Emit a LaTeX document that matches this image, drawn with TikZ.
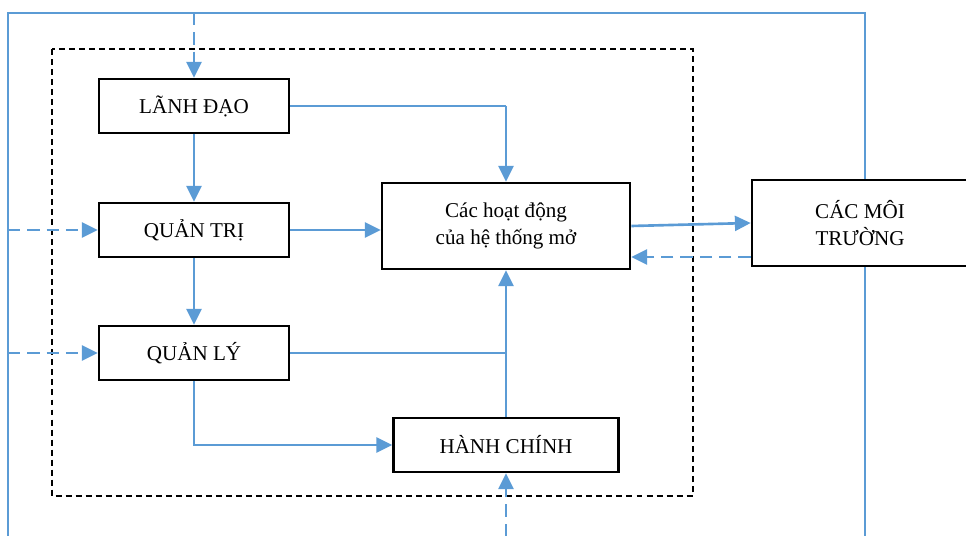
\documentclass[tikz,border=0pt]{standalone}
\usepackage{fontspec}
\setmainfont{Liberation Serif}
\usetikzlibrary{arrows.meta}
\definecolor{lineblue}{HTML}{5B9BD5}

\begin{document}
\begin{tikzpicture}[x=0.02cm,y=-0.02cm,
   box/.style={draw,line width=1.5pt,inner sep=0pt,minimum width=3.8cm,
     minimum height=1.08cm,align=center,font=\fontsize{12}{15}\selectfont},
   wire/.style={lineblue,line width=0.75pt},
   link/.style={lineblue,line width=1.5pt,-{Triangle[length=9pt,width=8.5pt]}},
   feed/.style={link,dash pattern=on 7pt off 4pt}]
   \useasboundingbox (0,0) rectangle (966,536);
   \draw[lineblue,line width=0.75pt] (8,536) -- (8,13) -- (865,13) -- (865,180);
   \draw[lineblue,line width=0.75pt] (865,266) -- (865,536);
   \draw[line width=1.2pt,dash pattern=on 3.4pt off 2.3pt] (52,49) rectangle (693,496);
   \node[box] (ld) at (194,106) {LÃNH ĐẠO};
   \node[box] (qt) at (194,230) {QUẢN TRỊ};
   \node[box] (ql) at (194,353) {QUẢN LÝ};
   \node[box,minimum width=4.96cm,minimum height=1.72cm] (hd) at (506,226) {Các hoạt động\\của hệ thống mở};
   \node[box,minimum width=4.5cm] (hc) at (506,445) {HÀNH CHÍNH};
   \node[box,minimum width=4.32cm,minimum height=1.72cm] (mt) at (860,223) {CÁC MÔI\\TRƯỜNG};
   \coordinate (top) at (194,13);
   \coordinate (bot) at (506,536);
   \coordinate (inqt) at (8,230);
   \coordinate (inql) at (8,353);
   \draw[feed] (top) -- (ld);
   \draw[feed] (bot) -- (hc);
   \draw[feed] (inqt) -- (qt.west);
   \draw[feed] (inql) -- (ql.west);
   \draw[link] (ld) -- (qt);
   \draw[link] (qt) -- (ql);
   \draw[wire] (ld.east) -- (ld.east -| hd.north);
   \draw[link] (ld.east -| hd.north) -- (hd.north);
   \draw[link] (qt.east) -- (qt.east -| hd.west);
   \draw[wire] (ql.east) -- (ql.east -| hc.north);
   \draw[link] (hc.north) -- (hd.south);
   \draw[link] (ql.south) |- (hc.west);
   \draw[link] (hd.east) -- (mt.west);
   \draw[feed] (mt.west |- 0,257) -- (hd.east |- 0,257);
\end{tikzpicture}
\end{document}
